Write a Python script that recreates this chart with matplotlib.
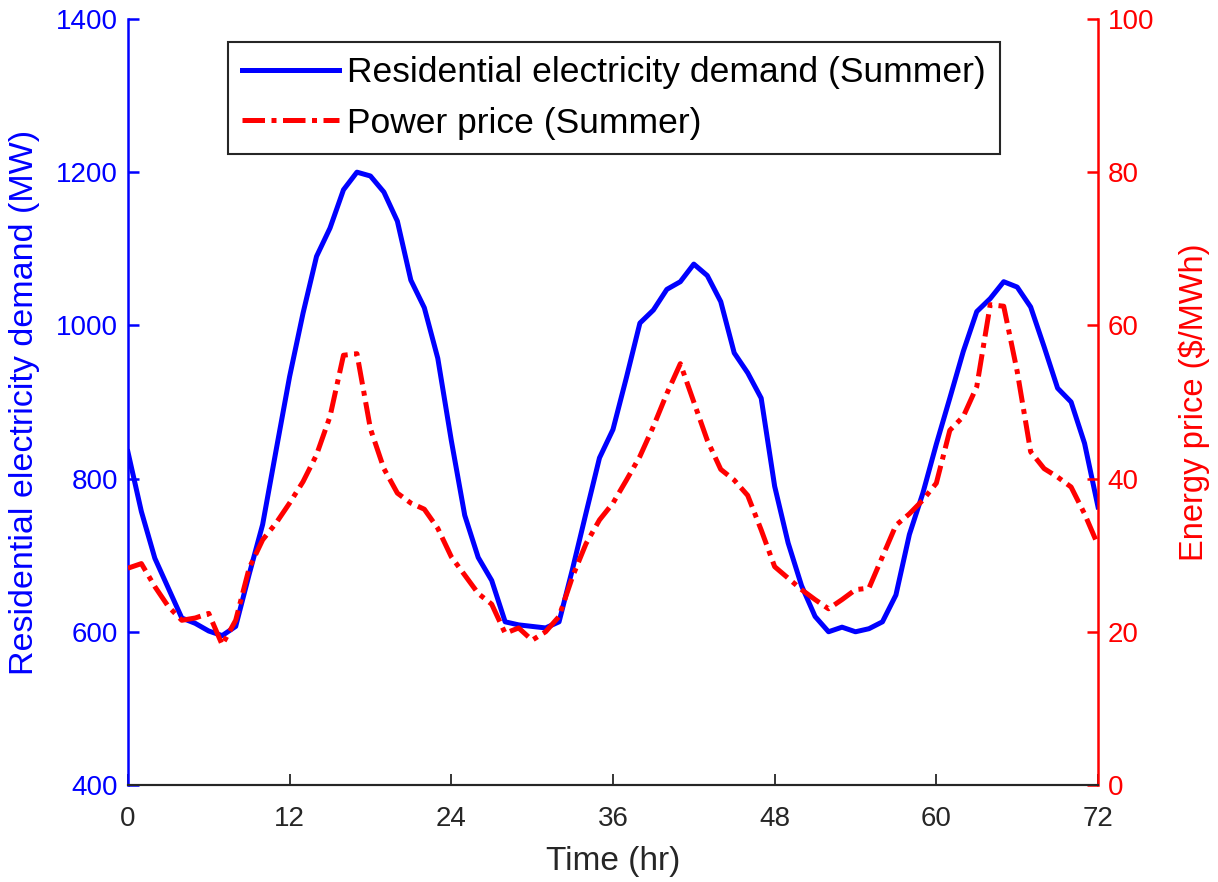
import matplotlib
matplotlib.use("Agg")
import matplotlib.pyplot as plt
import numpy as np

# hourly values (0..72 hr)
hours = np.arange(0, 73)

demand_mw = [835, 757, 696, 657, 618, 611, 601, 595, 607, 675,
             740, 837, 933, 1016, 1090, 1127, 1177, 1200, 1195, 1174,
             1136, 1059, 1023, 957, 850, 752, 697, 667, 613, 609,
             607, 605, 613, 682, 755, 827, 864, 932, 1003, 1020,
             1047, 1057, 1080, 1065, 1031, 964, 938, 905, 790, 716,
             660, 620, 600, 606, 600, 604, 613, 648, 727, 781,
             845, 905, 966, 1018, 1035, 1057, 1050, 1024, 972, 918,
             900, 846, 763]

price = [28.3, 28.9, 25.9, 23.3, 21.5, 21.8, 22.4, 18.3, 21.5, 28.3,
         32.0, 34.2, 36.8, 39.6, 43.1, 48.1, 56.1, 56.3, 46.5, 41.3,
         38.1, 36.8, 36.0, 33.5, 29.8, 27.4, 25.0, 23.6, 19.8, 20.5,
         18.9, 20.0, 22.0, 27.2, 31.5, 34.6, 36.8, 39.8, 42.9, 46.8,
         51.1, 55.0, 50.0, 45.0, 41.2, 39.8, 37.8, 33.3, 28.5, 27.0,
         25.5, 24.2, 23.0, 24.2, 25.5, 25.7, 29.8, 33.9, 35.4, 37.2,
         39.4, 46.3, 48.1, 52.0, 62.7, 62.5, 54.0, 43.5, 41.3, 40.2,
         38.9, 35.4, 31.3]

x_ticks = [0, 12, 24, 36, 48, 60, 72]
left_ticks = [400, 600, 800, 1000, 1200, 1400]
right_ticks = [0, 20, 40, 60, 80, 100]

plt.rcParams['font.family'] = ['Liberation Sans', 'DejaVu Sans']

BLUE = (0, 0, 1)
RED = (1, 0, 0)
GRAY = '#262626'

fig = plt.figure(figsize=(12.18, 8.82), dpi=100)
ax = fig.add_axes([0.105, 0.110, 0.7965, 0.8685])
ax2 = ax.twinx()

l1, = ax.plot(hours, demand_mw, color=BLUE, lw=3.6,
              label='Residential electricity demand (Summer)')
l2, = ax2.plot(hours, price, color=RED, lw=3.6, dashes=[4.5, 1.3, 1.0, 1.3],
               label='Power price (Summer)')

ax.set_xlim(0, 72)
ax.set_ylim(400, 1400)
ax2.set_ylim(0, 100)
ax.set_xticks(x_ticks)
ax.set_yticks(left_ticks)
ax2.set_yticks(right_ticks)

for a in (ax, ax2):
    a.spines['top'].set_visible(False)
    a.spines['bottom'].set_color(GRAY)
    a.spines['bottom'].set_linewidth(1.5)
ax.spines['right'].set_visible(False)
ax2.spines['left'].set_visible(False)
ax.spines['left'].set_color(BLUE)
ax.spines['left'].set_linewidth(1.8)
ax2.spines['right'].set_color(RED)
ax2.spines['right'].set_linewidth(1.8)

ax.tick_params(axis='x', direction='in', length=8, width=1.3, colors=GRAY,
               labelsize=20, pad=15)
ax.tick_params(axis='y', direction='in', length=8, width=1.8, colors=BLUE,
               labelsize=20, pad=7)
ax2.tick_params(axis='y', direction='in', length=8, width=1.8, colors=RED,
                labelsize=20, pad=7)

ax.set_xlabel('Time (hr)', fontsize=24, color=GRAY, labelpad=10)
ax.set_ylabel('Residential electricity demand (MW)', fontsize=24.5, color=BLUE)
ax2.set_ylabel('Energy price ($/MWh)', fontsize=23.5, color=RED)
ax.yaxis.set_label_coords(-0.091, 0.5)
ax2.yaxis.set_label_coords(1.0825, 0.5)

leg = ax.legend(handles=[l1, l2], loc='upper left',
                bbox_to_anchor=(0.103, 0.970), frameon=True, fontsize=25.5,
                fancybox=False, framealpha=1, edgecolor=GRAY,
                handlelength=2.75, handletextpad=0.22, borderpad=0.4,
                labelspacing=0.5, borderaxespad=0)
leg.get_frame().set_linewidth(1.5)

fig.savefig('out.png', dpi=100)
